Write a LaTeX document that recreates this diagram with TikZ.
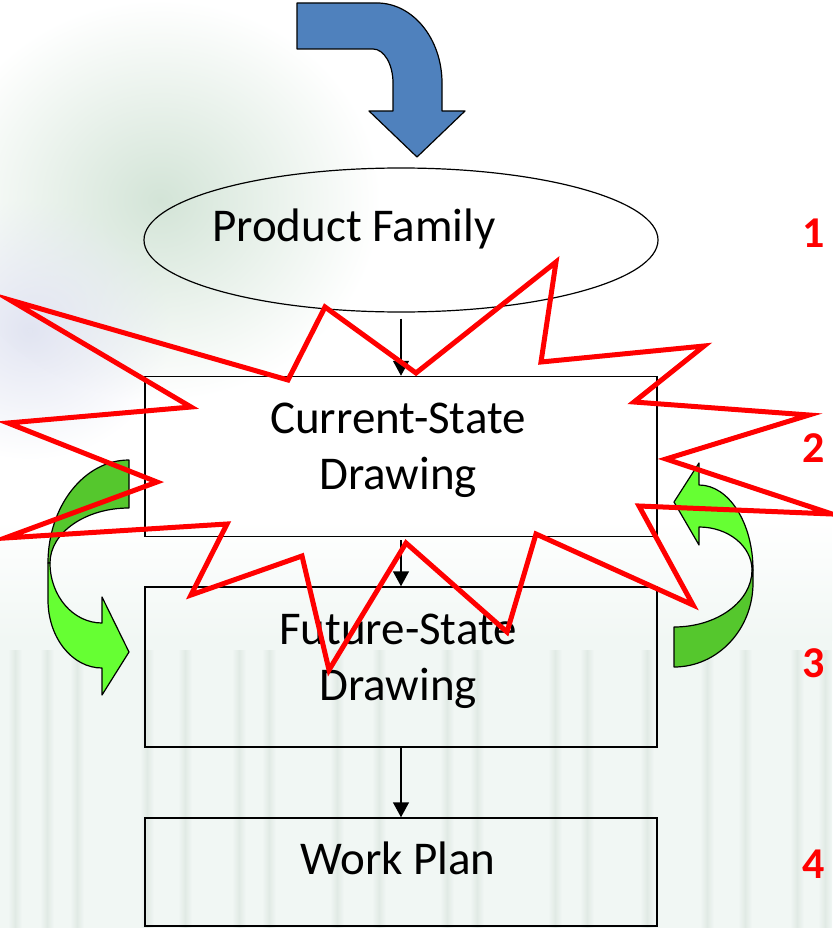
\documentclass[tikz,border=0pt]{standalone}
\usepackage{fontspec}
\setmainfont{Carlito}[BoldFont={Carlito Bold}]
\usetikzlibrary{arrows.meta,positioning,shapes.geometric,fadings}

\definecolor{arrowblue}{HTML}{4F81BD}
\definecolor{loopgreen}{HTML}{66FF33}
\definecolor{loopshade}{HTML}{55C72D}
\definecolor{hazegreen}{HTML}{D3E4D7}
\definecolor{hazeblue}{HTML}{E2E5F2}
\definecolor{hazemint}{HTML}{F1F7F4}
\definecolor{hazestreak}{HTML}{E1EAE5}

\tikzfading[name=softspot, inner color=transparent!0, outer color=transparent!100]

\begin{document}
\begin{tikzpicture}[x=1pt, y=-1pt, >={Triangle[length=15pt,width=16pt]},
    stagebox/.style={draw, line width=1.5pt, minimum width=512pt, inner sep=0pt},
    stagetext/.style={font=\fontsize{47}{56}\selectfont, align=center},
    stepnum/.style={text=red, font=\bfseries\fontsize{44}{50}\selectfont},
    flow/.style={->, line width=1.5pt},
    bent/.style={draw=black, line width=1.2pt, line join=round},
    haze/.style={path fading=softspot}]
    \useasboundingbox (0,0) rectangle (832,928);

    % faded backdrop
    \fill[hazegreen, haze] (-60,0) rectangle (380,400);
    \fill[hazeblue, haze] (-110,200) rectangle (170,460);
    \shade[top color=white, bottom color=hazemint] (0,520) rectangle (832,640);
    \fill[hazemint] (0,640) rectangle (832,928);
    \foreach \sx in {8,40,70,140,178,232,262,330,372,440,470,548,580,640,700,738,790,818}
        \shade[left color=hazemint, right color=hazemint, middle color=hazestreak] (\sx,650) rectangle ++(14,278);

    % Stages
    \node[draw, ellipse, line width=1.2pt, minimum width=514pt, minimum height=144pt, inner sep=0pt] (family) at (401,240) {};
    \node[stagebox, minimum height=160pt] (current) at (401,456.5) {};
    \node[stagebox, minimum height=160pt] (future) at (401,667) {};
    \node[stagebox, minimum height=108pt] (plan) at (401,872) {};

    \node[stagetext] (familytext) at (354,229) {Product Family};
    \node[stagetext] (currenttext) at (398,450) {Current-State\\Drawing};
    \node[stagetext] (futuretext) at (398,661) {Future-State\\Drawing};
    \node[stagetext] (plantext) at (398,858) {Work Plan};

    \draw[flow, shorten <=6pt] (family) -- (current);
    \draw[flow, shorten <=3pt] (current) -- (future);
    \draw[flow] (future) -- (plan);

    % Entry arrow
    \filldraw[bent, fill=arrowblue] (297,3) -- (377,3) arc[start angle=-90, end angle=0, x radius=65, y radius=80]
        -- (442,111) -- (465,111) -- (417,157) -- (369,111) -- (393,111) -- (393,83)
        arc[start angle=0, end angle=-90, x radius=20, y radius=34] -- (297,49) -- cycle;

    % Left loop
    \filldraw[bent, fill=loopshade] (129,460) arc[start angle=-90, end angle=-180, x radius=81, y radius=103]
        -- (50,563) arc[start angle=180, end angle=270, x radius=79, y radius=55] -- cycle;
    \filldraw[bent, fill=loopgreen] (48,563) -- (48,600) arc[start angle=180, end angle=90, x radius=54, y radius=68]
        -- (102,695) -- (129,652) -- (102,597) -- (102,623)
        arc[start angle=90, end angle=180, x radius=52, y radius=60] -- cycle;

    % Right loop
    \filldraw[bent, fill=loopshade] (753,570) -- (753,583) arc[start angle=0, end angle=90, x radius=79, y radius=84]
        -- (674,627) arc[start angle=90, end angle=0, x radius=78, y radius=57] -- cycle;
    \filldraw[bent, fill=loopgreen] (674,502) -- (699,463) -- (699,485) arc[start angle=-90, end angle=0, x radius=54, y radius=85]
        -- (752,570) arc[start angle=0, end angle=-90, x radius=53, y radius=43] -- (699,545) -- cycle;

    % Burst
    \draw[red, line width=5pt] (10,300) -- (288,380) -- (325,307) -- (416,373) -- (556,262) -- (541,362)
        -- (704,346) -- (634,402) -- (809,415) -- (666,459) -- (832,514) -- (639,506)
        -- (693,605) -- (536,534) -- (507,632) -- (406,543) -- (329,670) -- (302,556)
        -- (191,595) -- (227,524) -- (5,538) -- (157,482) -- (8,423) -- (191,407) -- cycle;

    % Step numbers
    \node[stepnum] (n1) at (814,233) {1};
    \node[stepnum] (n2) at (814,448) {2};
    \node[stepnum] (n3) at (814,663) {3};
    \node[stepnum] (n4) at (814,864) {4};
\end{tikzpicture}
\end{document}
